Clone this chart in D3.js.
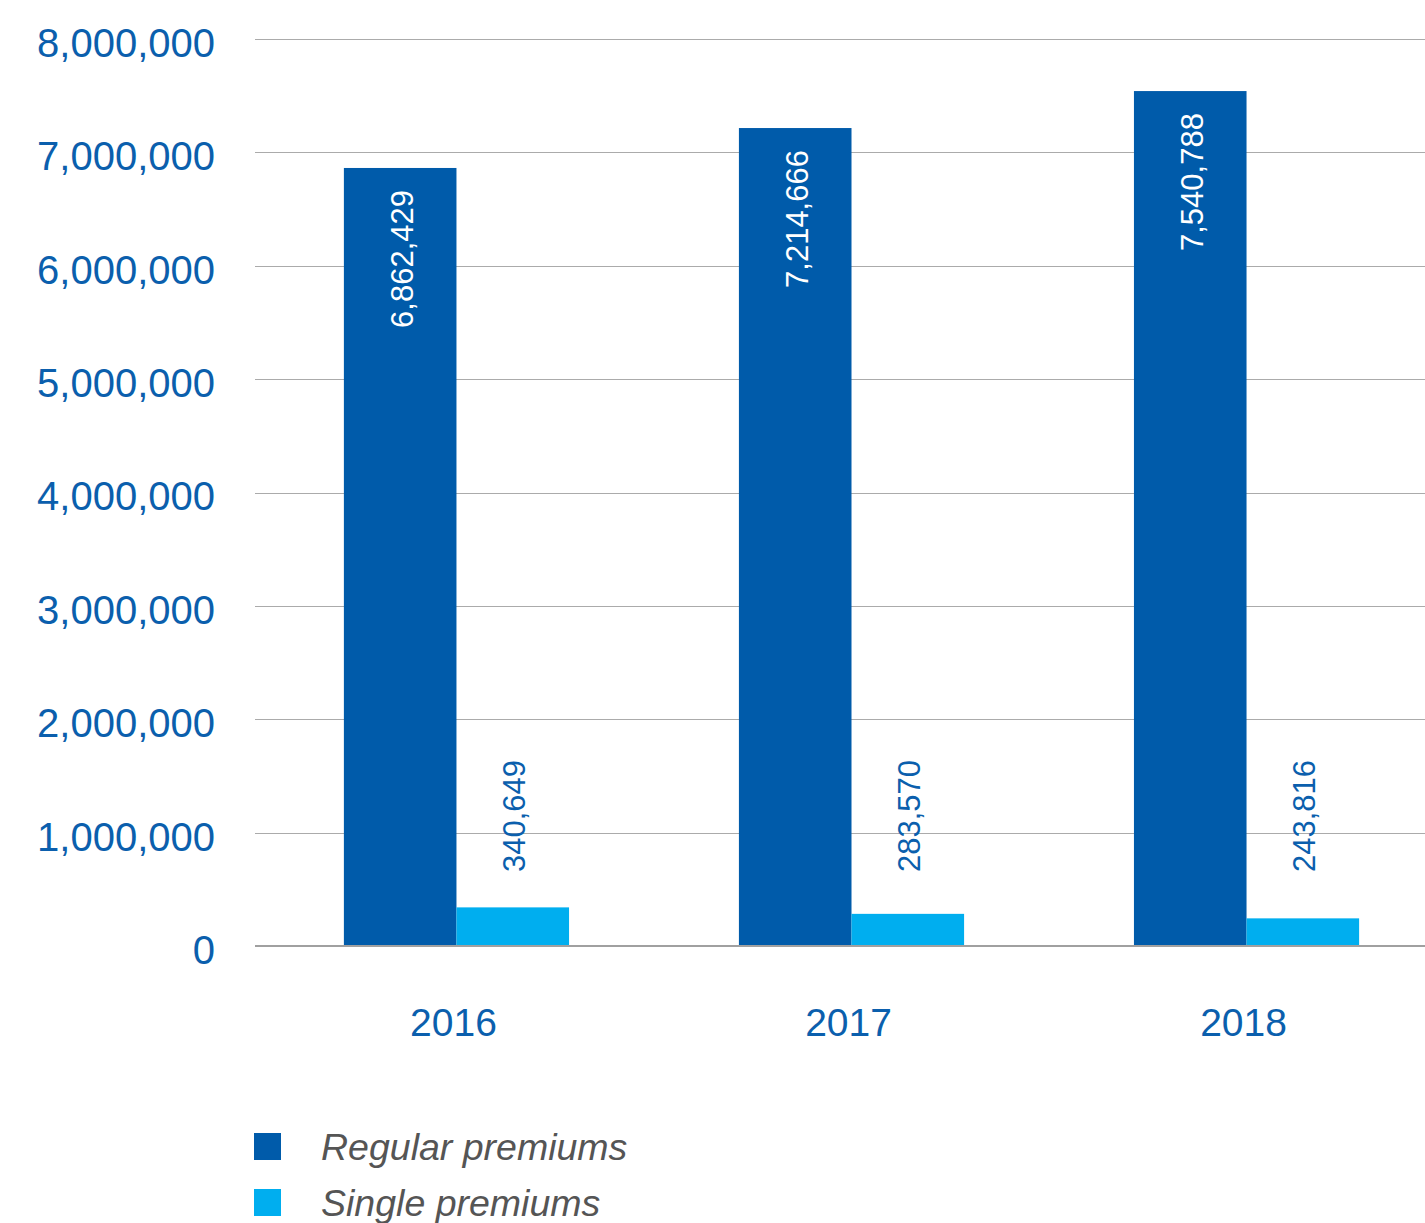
<!DOCTYPE html>
<html>
<head>
<meta charset="utf-8">
<script src="https://cdn.jsdelivr.net/npm/d3@7"></script>
<style>
  html, body { margin: 0; padding: 0; background: #fff; }
  svg { display: block; font-family: "Liberation Sans", Arial, sans-serif; }
</style>
</head>
<body>
<svg id="chart" width="1425" height="1223"></svg>
<script>
// Premium income by year
const years = ["2016", "2017", "2018"];
const seriesNames = ["Regular premiums", "Single premiums"];
const regularPremiums = [6862429, 7214666, 7540788];
const singlePremiums = [340649, 283570, 243816];
const yTicks = [0, 1000000, 2000000, 3000000, 4000000, 5000000, 6000000, 7000000, 8000000];

const colors = { "Regular premiums": "#005BAA", "Single premiums": "#00AEEF" };
const textBlue = "#0B5FAD";

const rows = years.map((y, i) => ({
  year: y,
  values: [
    { series: seriesNames[0], value: regularPremiums[i] },
    { series: seriesNames[1], value: singlePremiums[i] }
  ]
}));

const svg = d3.select("#chart");
const fmt = d3.format(",");

const x = d3.scaleBand().domain(years).range([255, 1448])
  .paddingInner(0.43).paddingOuter(0.225);
const xs = d3.scaleBand().domain(seriesNames).range([0, x.bandwidth()]);
const y = d3.scaleLinear().domain([0, 8000000]).range([946, 39]);

// horizontal gridlines
svg.append("g").selectAll("line").data(yTicks.filter(d => d > 0)).join("line")
  .attr("x1", 255).attr("x2", 1448)
  .attr("y1", d => Math.round(y(d)) + 0.5).attr("y2", d => Math.round(y(d)) + 0.5)
  .attr("stroke", "#ABABAB").attr("stroke-width", 1.2);

// y axis labels
const yAxis = d3.axisLeft(y).tickValues(yTicks).tickFormat(fmt).tickSize(0).tickPadding(0);
const ya = svg.append("g").attr("transform", "translate(215,3)").call(yAxis);
ya.select(".domain").remove();
ya.selectAll("text")
  .attr("fill", textBlue).attr("font-size", 40).attr("dy", "0.36em")
  .attr("font-family", "'Liberation Sans', Arial, sans-serif");

// bars
const groups = svg.append("g").selectAll("g").data(rows).join("g")
  .attr("transform", d => `translate(${x(d.year)},0)`);

groups.selectAll("rect").data(d => d.values).join("rect")
  .attr("x", d => xs(d.series))
  .attr("width", xs.bandwidth())
  .attr("y", d => y(d.value))
  .attr("height", d => y(0) - y(d.value))
  .attr("fill", d => colors[d.series]);

// value labels (rotated)
groups.selectAll("text.val").data(d => d.values).join("text")
  .attr("class", "val")
  .attr("font-size", 31)
  .attr("dominant-baseline", "central")
  .attr("fill", d => d.series === seriesNames[0] ? "#fff" : textBlue)
  .attr("text-anchor", d => d.series === seriesNames[0] ? "end" : "start")
  .attr("transform", d => {
    const cx = xs(d.series) + xs.bandwidth() / 2 + 2;
    const cy = d.series === seriesNames[0] ? y(d.value) + 22 : y(0) - 74;
    return `translate(${cx},${cy}) rotate(-90)`;
  })
  .text(d => fmt(d.value));

// baseline
svg.append("line")
  .attr("x1", 255).attr("x2", 1448)
  .attr("y1", y(0)).attr("y2", y(0))
  .attr("stroke", "#A0A0A0").attr("stroke-width", 2.2);

// x axis labels
const xAxis = d3.axisBottom(x).tickSize(0).tickPadding(0);
const xa = svg.append("g").attr("transform", "translate(-3,1036)").call(xAxis);
xa.select(".domain").remove();
xa.selectAll("text")
  .attr("fill", textBlue).attr("font-size", 39).attr("dy", 0)
  .attr("font-family", "'Liberation Sans', Arial, sans-serif");

// legend
const legend = svg.append("g").selectAll("g").data(seriesNames).join("g")
  .attr("transform", (d, i) => `translate(254,${1133 + i * 56})`);
legend.append("rect").attr("width", 27).attr("height", 27).attr("fill", d => colors[d]);
legend.append("text")
  .attr("x", 67).attr("y", 27)
  .attr("font-size", 37.5).attr("font-style", "italic").attr("fill", "#555")
  .text(d => d);
</script>
</body>
</html>
